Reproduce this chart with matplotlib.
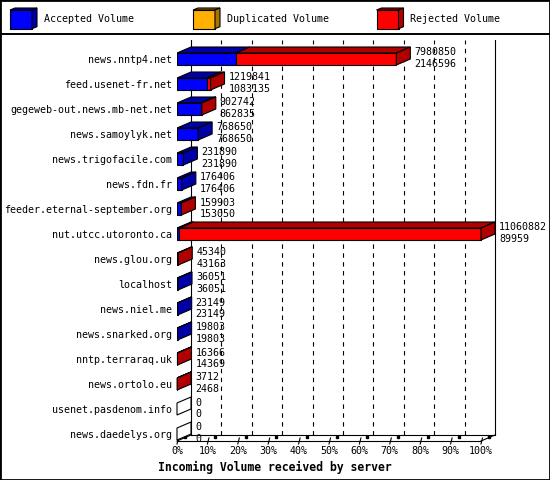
import matplotlib.pyplot as plt
from matplotlib.patches import Polygon, Rectangle
from matplotlib.lines import Line2D

plt.rcParams['font.family'] = 'DejaVu Sans Mono'
plt.rcParams['font.size'] = 7.2

# data: total volume and accepted volume per server
servers = ['news.nntp4.net', 'feed.usenet-fr.net', 'gegeweb-out.news.mb-net.net',
           'news.samoylyk.net', 'news.trigofacile.com', 'news.fdn.fr',
           'feeder.eternal-september.org', 'nut.utcc.utoronto.ca', 'news.glou.org',
           'localhost', 'news.niel.me', 'news.snarked.org', 'nntp.terraraq.uk',
           'news.ortolo.eu', 'usenet.pasdenom.info', 'news.daedelys.org']
total = [7980850, 1219841, 902742, 768650, 231890, 176406, 159903, 11060882,
         45340, 36051, 23149, 19803, 16366, 3712, 0, 0]
accepted = [2146596, 1083135, 862835, 768650, 231890, 176406, 153050, 89959,
            43163, 36051, 23149, 19803, 14369, 2468, 0, 0]
duplicated = [0] * 16
rejected = [t - a - d for t, a, d in zip(total, accepted, duplicated)]

series_names = ['Accepted Volume', 'Duplicated Volume', 'Rejected Volume']
front_cols = ['#0000ff', '#ffb000', '#ff0000']
dark_cols = ['#0000a8', '#a87400', '#b00000']
xticks = list(range(0, 101, 10))

W, H = 550, 480
fig = plt.figure(figsize=(W / 100, H / 100), dpi=100)

# layout in pixels
x0, x1, x_back = 177, 481, 495
row0, step = 59, 25
floor_px, top_px = 441, 40

ax = fig.add_axes([x0 / W, 1 - floor_px / H, (x_back - x0) / W, (floor_px - top_px) / H])
ax.set_xlim(0, 100 * (x_back - x0) / (x1 - x0))
yf = (floor_px - row0) / step
ax.set_ylim(yf, (top_px - row0) / step)
for s in ax.spines.values():
    s.set_visible(False)

dx = 14 * 100 / (x1 - x0)   # depth in data units
dy = 6 / step
yb = yf - dy
lw = 0.8

# walls and floor
ax.plot([dx, dx], [yb, ax.get_ylim()[1]], color='black', lw=lw, clip_on=False)
ax.plot([100 + dx, 100 + dx], [yb, ax.get_ylim()[1]], color='black', lw=lw, clip_on=False)
ax.plot([dx, 100 + dx], [yb, yb], color='black', lw=lw, clip_on=False)
ax.plot([0, 100], [yf, yf], color='black', lw=lw, clip_on=False)
ax.plot([0, dx], [yf, yb], color='black', lw=lw, clip_on=False)
ax.plot([100, 100 + dx], [yf, yb], color='black', lw=lw, clip_on=False)
for t in xticks[1:-1]:
    ax.plot([t + dx, t + dx], [yb, ax.get_ylim()[1]], color='black', lw=lw,
            linestyle=(0, (4, 4)), clip_on=False)
for t in xticks:
    ax.plot([t, t + 0.5], [yf + 0.12, yf - 0.12], color='black', lw=lw, clip_on=False)
    ax.plot([t + 2.6], [yf - 0.17], marker='s', markersize=2, color='black', clip_on=False)

# bars
scale = 100 / max(total)
h = 0.48
ys = list(range(len(servers)))
segs = [accepted, duplicated, rejected]
left = [0.0] * len(servers)
for vals, fc, dc in zip(segs, front_cols, dark_cols):
    w = [v * scale for v in vals]
    for i in ys:
        if w[i] > 0:
            ax.barh(i, w[i], left=left[i], height=h, color=fc, edgecolor='black',
                    linewidth=lw, zorder=3)
            xa, xb = left[i], left[i] + w[i]
            yt = i - h / 2
            ax.add_patch(Polygon([(xa, yt), (xb, yt), (xb + dx, yt - dy), (xa + dx, yt - dy)],
                                 closed=True, facecolor=dc, edgecolor='black',
                                 linewidth=lw, zorder=3))
    left = [l + v for l, v in zip(left, w)]

for i in ys:
    xe = total[i] * scale
    side = 'white'
    for vals, dc in zip(segs, dark_cols):
        if vals[i] > 0:
            side = dc
    yt, ybot = i - h / 2, i + h / 2
    ax.add_patch(Polygon([(xe, yt), (xe + dx, yt - dy), (xe + dx, ybot - dy), (xe, ybot)],
                         closed=True, facecolor=side, edgecolor='black',
                         linewidth=lw, zorder=3, clip_on=False))
    ax.text(xe + dx + 1.3, i - 0.26, str(total[i]), va='center', ha='left', zorder=4)
    ax.text(xe + dx + 1.3, i + 0.21, str(accepted[i]), va='center', ha='left', zorder=4)

ax.set_yticks(ys, labels=servers)
ax.set_xticks(xticks, labels=[f'{t}%' for t in xticks])
ax.tick_params(axis='y', length=0, pad=3.6)
ax.tick_params(axis='x', length=0, pad=3.8)

fig.text(0.5, 1 - 467 / H, 'Incoming Volume received by server', ha='center', va='center',
         fontweight='bold', fontsize=8.3)

# legend strip
lg = fig.add_axes([0, 1 - 34 / H, 1, 34 / H])
lg.set_xlim(0, W)
lg.set_ylim(34, 0)
lg.axis('off')
for bx, name, fc, dc in zip([10, 193, 376.5], series_names, front_cols, dark_cols):
    lg.add_patch(Rectangle((bx, 10), 22, 18.7, facecolor=fc, edgecolor='black', linewidth=lw))
    lg.add_patch(Polygon([(bx, 10), (bx + 5, 8), (bx + 27, 8), (bx + 22, 10)],
                         closed=True, facecolor=dc, edgecolor='black', linewidth=lw))
    lg.add_patch(Polygon([(bx + 22, 10), (bx + 27, 8), (bx + 27, 26.7), (bx + 22, 28.7)],
                         closed=True, facecolor=dc, edgecolor='black', linewidth=lw))
    lg.text(bx + 34, 19.5, name, va='center', ha='left')

fig.add_artist(Line2D([0, 1], [1 - 34 / H, 1 - 34 / H], color='black', lw=1.4,
                      transform=fig.transFigure))
fig.add_artist(Rectangle((0, 0), 1, 1, transform=fig.transFigure, fill=False,
                         edgecolor='black', lw=2))

fig.savefig('out.png', dpi=100)
